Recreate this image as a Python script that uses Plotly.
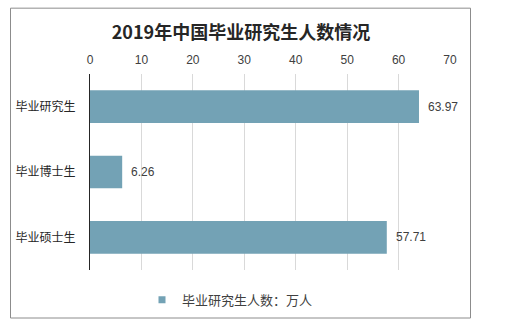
import plotly.graph_objects as go

categories = ["毕业研究生", "毕业博士生", "毕业硕士生"]
values = [63.97, 6.26, 57.71]
series_name = "毕业研究生人数：万人"
title_text = "2019年中国毕业研究生人数情况"
tick_vals = [0, 10, 20, 30, 40, 50, 60, 70]

font_fam = "Liberation Sans, Noto Sans CJK SC, sans-serif"
bar_color = "#73A2B5"

fig = go.Figure()
fig.add_trace(go.Bar(
    x=values, y=categories, orientation="h", name=series_name,
    marker=dict(color=bar_color, line=dict(width=0)),
    showlegend=False,
))
# legend entry for the same series, with a small square symbol
fig.add_trace(go.Scatter(
    x=[None], y=[None], mode="markers", name=series_name,
    marker=dict(symbol="square", size=7, color=bar_color),
    showlegend=True,
))

for v, c in zip(values, categories):
    fig.add_annotation(x=v, y=c, xref="x", yref="y", text=f"{v:.2f}",
                       showarrow=False, xanchor="left", xshift=7,
                       font=dict(size=12, color="#404040", family=font_fam))

W, H = 520, 327
L, R, T, B = 90, 70, 74, 55
pw, ph = W - L - R, H - T - B

def px_to_paper_x(px):
    return (px - L) / pw

def px_to_paper_y(py):
    return (H - B - py) / ph

fig.add_shape(type="rect", xref="paper", yref="paper",
              x0=px_to_paper_x(10.5), x1=px_to_paper_x(470.5),
              y0=px_to_paper_y(320.5), y1=px_to_paper_y(7.5),
              line=dict(color="#8C8C8C", width=1), fillcolor="rgba(0,0,0,0)", layer="below")

fig.update_layout(
    width=W, height=H,
    margin=dict(l=L, r=R, t=T, b=B, pad=0),
    paper_bgcolor="white", plot_bgcolor="white",
    bargap=0.5,
    title=dict(text=f"<b>{title_text}</b>", x=px_to_paper_x(241), xref="paper", xanchor="center",
               y=1 - 33 / H, yanchor="middle", font=dict(size=18, color="#262626",
               family="Noto Sans CJK SC, sans-serif")),
    xaxis=dict(side="top", range=[0, 70], tickvals=tick_vals, showgrid=True,
               gridcolor="#D9D9D9", gridwidth=1, zeroline=False, showline=False,
               ticks="", ticklabelstandoff=7,
               tickfont=dict(size=12, color="#404040", family=font_fam)),
    yaxis=dict(autorange="reversed", showgrid=False, zeroline=False,
               showline=True, linecolor="#262626", linewidth=1,
               ticks="", ticklabelstandoff=11,
               tickfont=dict(size=12, color="#262626", family=font_fam)),
    legend=dict(orientation="h", x=px_to_paper_x(230), xanchor="center",
                y=px_to_paper_y(302), yanchor="middle",
                font=dict(size=13, color="#404040", family=font_fam),
                itemwidth=30),
)

fig.write_html("out.html")
